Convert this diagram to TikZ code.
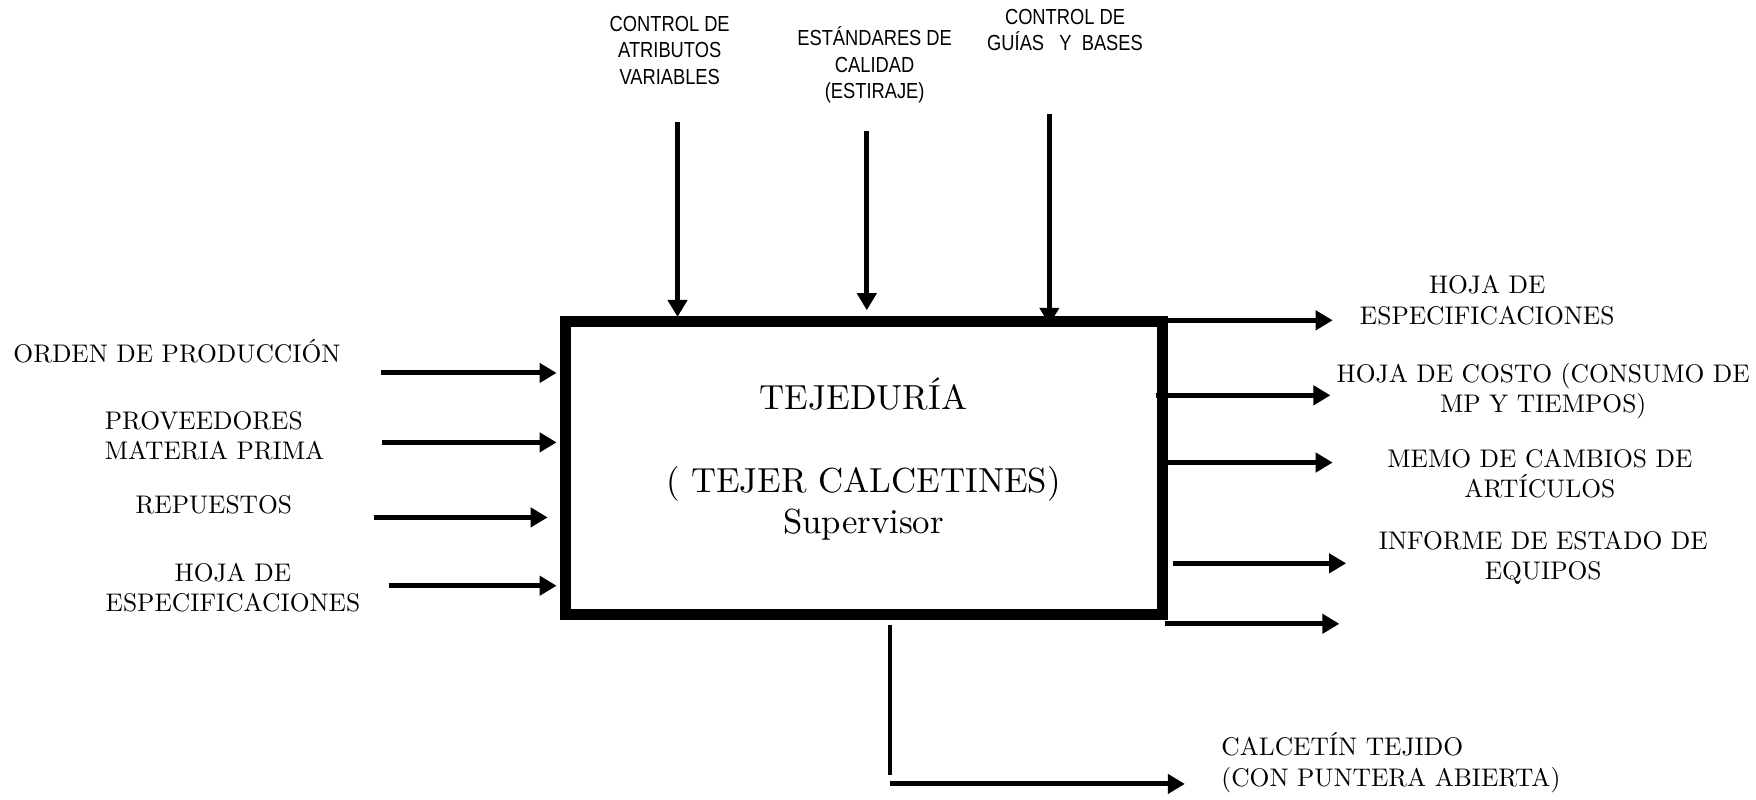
\documentclass[tikz,border=0pt]{standalone}
\usepackage{fontspec}
\newfontfamily\narrowsans[FakeStretch=0.84]{Liberation Sans}
\newfontfamily\serten{lmroman10-regular.otf}
\usetikzlibrary{arrows.meta}
\tikzset{
  arr/.style={line width=1.4pt,-{Triangle[length=1.7mm,width=1.9mm]}},
  plainline/.style={line width=1.2pt},
  procbox/.style={draw,line width=3.1pt,minimum width=5.97cm,minimum height=2.934cm,inner sep=0pt},
  serlabel/.style={font=\serten\fontsize{7.25pt}{8.6pt}\selectfont,align=center,inner sep=0pt},
  toplabel/.style={font=\narrowsans\fontsize{6.2pt}{7.5pt}\selectfont,align=center,inner sep=0pt},
  midtext/.style={font=\serten\fontsize{9.9pt}{11.75pt}\selectfont,align=center,inner sep=0pt}
}
\begin{document}
\begin{tikzpicture}[x=0.0112cm,y=-0.0112cm]
\useasboundingbox (0,0) rectangle (1568,714);
% process box
\node[procbox] (box) at (771.5,418) {};
\node[midtext] (boxtext) at (771,410) {TEJEDURÍA\\ \mbox{}\\ ( TEJER CALCETINES)\\ Supervisor};
% top labels
\node[toplabel] (t1) at (598,45) {CONTROL DE\\ ATRIBUTOS\\ VARIABLES};
\node[toplabel] (t2) at (781,58) {ESTÁNDARES DE\\ CALIDAD\\ (ESTIRAJE)};
\node[toplabel] (t3) at (951,27) {CONTROL DE\\ GUÍAS\ \ \ Y\ \ BASES};
% left labels
\node[serlabel] (l1) at (158,314) {ORDEN DE PRODUCCIÓN};
\node[serlabel,align=left,anchor=west] (l2) at (93,389) {PROVEEDORES\\ MATERIA PRIMA};
\node[serlabel] (l3) at (191,451) {REPUESTOS};
\node[serlabel] (l4) at (208,525) {HOJA DE\\ ESPECIFICACIONES};
% right labels
\node[serlabel] (r1) at (1328,268) {HOJA DE\\ ESPECIFICACIONES};
\node[serlabel] (r2) at (1378,349) {HOJA DE COSTO (CONSUMO DE\\ MP Y TIEMPOS)};
\node[serlabel] (r3) at (1375,423) {MEMO DE CAMBIOS DE\\ ARTÍCULOS};
\node[serlabel] (r4) at (1378,498) {INFORME DE ESTADO DE\\ EQUIPOS};
\node[serlabel,align=left,anchor=west] (b1) at (1090,681) {CALCETÍN TEJIDO\\ (CON PUNTERA ABIERTA)};
% coordinates for connectors
\coordinate (ts1) at (605,109); \coordinate (te1) at (605,283);
\coordinate (ts2) at (774,117); \coordinate (te2) at (774,277);
\coordinate (ts3) at (937,102); \coordinate (te3) at (937,290);
\coordinate (ls1) at (340,333); \coordinate (le1) at (497,333);
\coordinate (ls2) at (341,395); \coordinate (le2) at (497,395);
\coordinate (ls3) at (334,462); \coordinate (le3) at (489,462);
\coordinate (ls4) at (347,523); \coordinate (le4) at (497,523);
\coordinate (rs1) at (1038,286); \coordinate (re1) at (1190,286);
\coordinate (rs2) at (1032,353); \coordinate (re2) at (1188,353);
\coordinate (rs3) at (1043,413); \coordinate (re3) at (1190,413);
\coordinate (rs4) at (1047,503); \coordinate (re4) at (1202,503);
\coordinate (rs5) at (1040,557); \coordinate (re5) at (1196,557);
\coordinate (bs) at (795,558); \coordinate (bm) at (795,692);
\coordinate (hs) at (795,700); \coordinate (he) at (1058,700);
% connectors
\foreach \i in {1,2,3} {\draw[arr] (ts\i) -- (te\i);}
\foreach \i in {1,2,3,4} {\draw[arr] (ls\i) -- (le\i);}
\foreach \i in {1,2,3,4,5} {\draw[arr] (rs\i) -- (re\i);}
\draw[plainline] (bs) -- (bm);
\draw[arr] (hs) -- (he);
\end{tikzpicture}
\end{document}
